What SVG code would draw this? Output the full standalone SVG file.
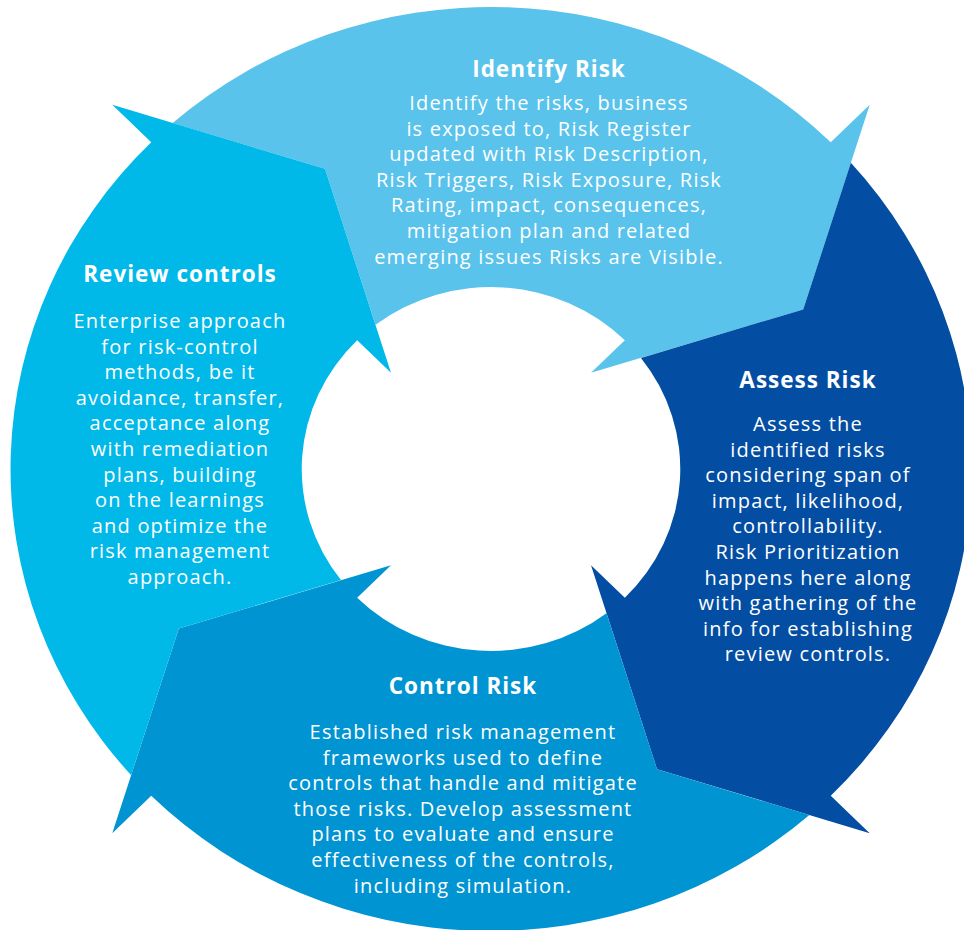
<svg xmlns="http://www.w3.org/2000/svg" width="964" height="930" viewBox="0 0 964 930">
<style>
.t{font-family:"Open Sans","Liberation Sans",sans-serif;font-weight:700;font-size:22.5px;letter-spacing:1px;fill:#fff;text-anchor:middle}
.b{font-family:"Open Sans","Liberation Sans",sans-serif;font-size:20px;letter-spacing:1.2px;fill:#fff;text-anchor:middle}
</style>
<rect width="964" height="930" fill="#fff"/>
<g id="identify">
<path fill="#59C3EC" transform="translate(491,469) scale(1.04,1)" d="M-306.13,-346.02 A462,462 0 0 1 326.68,-326.68 L364.16,-364.16 L300.20,-159.62 L96.17,-96.17 L128.69,-128.69 A182,182 0 0 0 -111.05,-144.20 L-159.62,-300.20 Z"/>
<text class="t" x="549" y="77">Identify Risk</text>
<text class="b" x="549" y="110">Identify the risks, business</text>
<text class="b" x="549" y="135.6">is exposed to, Risk Register</text>
<text class="b" x="549" y="161.2">updated with Risk Description,</text>
<text class="b" x="549" y="186.8">Risk Triggers, Risk Exposure, Risk</text>
<text class="b" x="549" y="212.4">Rating, impact, consequences,</text>
<text class="b" x="549" y="238">mitigation plan and related</text>
<text class="b" x="549" y="263.6">emerging issues Risks are Visible.</text>
</g>
<g id="assess">
<path fill="#034EA2" transform="translate(491,469) scale(1.04,1)" d="M346.02,-306.13 A462,462 0 0 1 326.68,326.68 L364.16,364.16 L159.62,300.20 L96.17,96.17 L128.69,128.69 A182,182 0 0 0 144.20,-111.05 L300.20,-159.62 Z"/>
<text class="t" x="808" y="388">Assess Risk</text>
<text class="b" x="808" y="431">Assess the</text>
<text class="b" x="808" y="456.6">identified risks</text>
<text class="b" x="808" y="482.2">considering span of</text>
<text class="b" x="808" y="507.8">impact, likelihood,</text>
<text class="b" x="808" y="533.4">controllability.</text>
<text class="b" x="808" y="559">Risk Prioritization</text>
<text class="b" x="808" y="584.6">happens here along</text>
<text class="b" x="808" y="610.2">with gathering of the</text>
<text class="b" x="808" y="635.8">info for establishing</text>
<text class="b" x="808" y="661.4">review controls.</text>
</g>
<g id="control">
<path fill="#0094D2" transform="translate(491,469) scale(1.04,1)" d="M306.13,346.02 A462,462 0 0 1 -326.68,326.68 L-364.16,364.16 L-300.20,159.62 L-96.17,96.17 L-128.69,128.69 A182,182 0 0 0 111.05,144.20 L159.62,300.20 Z"/>
<text class="t" x="463" y="694">Control Risk</text>
<text class="b" x="463" y="739">Established risk management</text>
<text class="b" x="463" y="764.6">frameworks used to define</text>
<text class="b" x="463" y="790.2">controls that handle and mitigate</text>
<text class="b" x="463" y="815.8">those risks. Develop assessment</text>
<text class="b" x="463" y="841.4">plans to evaluate and ensure</text>
<text class="b" x="463" y="867">effectiveness of the controls,</text>
<text class="b" x="463" y="892.6">including simulation.</text>
</g>
<g id="review">
<path fill="#00B9E9" transform="translate(491,469) scale(1.04,1)" d="M-346.02,306.13 A462,462 0 0 1 -326.68,-326.68 L-364.16,-364.16 L-159.62,-300.20 L-96.17,-96.17 L-128.69,-128.69 A182,182 0 0 0 -144.20,111.05 L-300.20,159.62 Z"/>
<text class="t" x="180" y="282">Review controls</text>
<text class="b" x="180" y="328">Enterprise approach</text>
<text class="b" x="180" y="353.6">for risk-control</text>
<text class="b" x="180" y="379.2">methods, be it</text>
<text class="b" x="180" y="404.8">avoidance, transfer,</text>
<text class="b" x="180" y="430.4">acceptance along</text>
<text class="b" x="180" y="456">with remediation</text>
<text class="b" x="180" y="481.6">plans, building</text>
<text class="b" x="180" y="507.2">on the learnings</text>
<text class="b" x="180" y="532.8">and optimize the</text>
<text class="b" x="180" y="558.4">risk management</text>
<text class="b" x="180" y="584">approach.</text>
</g>
<g id="connectors"></g>
</svg>
